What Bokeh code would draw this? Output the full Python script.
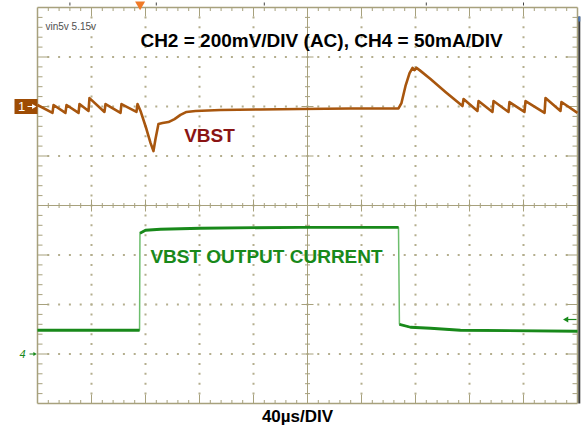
import numpy as np
from bokeh.plotting import figure
from bokeh.models import Range1d, Label
from bokeh.embed import file_html
from bokeh.resources import INLINE

# ---------------- data ----------------
# CH2: VBST (AC coupled), time in microseconds, deviation in mV
time_ch2_us = [0, 11.1, 11.9, 20.7, 21.5, 30.4, 31.1, 37.8, 38.5, 49.6,
               50.4, 61.5, 62.2, 73.3, 74.1, 76.3, 80.7, 83.7, 85.9, 87.4,
               89.6, 92.6, 97.0, 101.5, 105.9, 110.4, 117.0, 135.6, 165.2, 194.8,
               231.9, 267.4, 269.6, 272.6, 275.6, 277.8, 279.3, 280.7, 283.0, 291.1,
               302.2, 314.8, 315.6, 325.9, 326.7, 337.0, 337.8, 348.9, 349.6, 360.7,
               361.5, 375.6, 376.3, 387.4, 388.1, 400]
ch2_mV = [6, -26, 6, -26, 6, -26, 10, -18, 34, -22,
          10, -26, 10, -22, 10, -18, -91, -147, -180, -131,
          -71, -67, -63, -51, -34, -22, -18, -14, -12, -10,
          -8, -8, 14, 83, 135, 156, 147, 156, 147, 111,
          59, 2, 30, -18, 22, -22, 22, -22, 18, -22,
          22, -26, 34, -18, 18, -26]

# CH4: VBST output current, time in microseconds, current in mA
time_ch4_us = [0, 75.6, 75.9, 80.0, 91.1, 120.7, 194.8, 267.4, 268.1, 276.3, 291.1, 313.3, 400]
ch4_mA = [24, 24, 122, 125, 126, 127, 128, 128, 30, 27, 26, 24, 23]
ch4_edges = [1, 7]   # indices where the step edges start

CH2_MV_PER_DIV = 200
CH4_MA_PER_DIV = 50
CH2_OFFSET_DIV = 2
CH4_OFFSET_DIV = -3
US_PER_DIV = 40
N_XDIV = 10
N_YDIV = 8
TRIGGER_US = 76

title_text = "CH2 = 200mV/DIV (AC), CH4 = 50mA/DIV"
ch2_label = "VBST"
ch4_label = "VBST OUTPUT CURRENT"
time_label = "40\u00b5s/DIV"
info_text = "vin5v 5.15v"

# ---------------- styling ----------------
W, H = 581, 430
PX_PER_US = 54 / 40.0
PX_PER_DIV = 49.5
x_start = -37 / PX_PER_US
y_end = 205 / PX_PER_DIV

BORDER = "#A7A17D"
DOT = "#B4AE8E"
CH2_COL = "#A8560E"
CH2_BOX = "#9E4C04"
CH4_COL = "#18891A"
CH4_EDGE = "#6DBE6D"

p = figure(width=W, height=H,
           x_range=Range1d(x_start, x_start + W / PX_PER_US),
           y_range=Range1d(y_end - H / PX_PER_DIV, y_end),
           output_backend="svg", toolbar_location=None, min_border=0,
           x_axis_location=None, y_axis_location=None)
p.grid.visible = False
p.outline_line_color = None
p.background_fill_color = "white"
p.border_fill_color = "white"

def dx(px):
    return px / PX_PER_US

def dy(px):
    return px / PX_PER_DIV

x_right = N_XDIV * US_PER_DIV
y_top = N_YDIV / 2
y_bot = -N_YDIV / 2

# dotted graticule
dots_x, dots_y = [], []
for i in range(1, N_XDIV):
    if i == N_XDIV // 2:
        continue
    for j in range(-20 + 1, 20):
        dots_x.append(i * US_PER_DIV)
        dots_y.append(j / 5)
for k in range(-3, 4):
    if k == 0:
        continue
    for m in range(1, 50):
        dots_x.append(m / 5 * US_PER_DIV)
        dots_y.append(k)
p.scatter(dots_x, dots_y, marker="square", size=2, color=DOT, line_color=None)

# center axes
p.segment(x0=[0, 5 * US_PER_DIV], y0=[0, y_bot], x1=[x_right, 5 * US_PER_DIV], y1=[0, y_top],
          line_color=BORDER, line_width=1)
tx, ty0, ty1 = [], [], []
for m in range(1, 50):
    L = 6 if m % 5 == 0 else 2.5
    tx.append(m / 5 * US_PER_DIV); ty0.append(-dy(L)); ty1.append(dy(L))
p.segment(x0=tx, y0=ty0, x1=tx, y1=ty1, line_color=BORDER, line_width=1)
hy, hx0, hx1 = [], [], []
for j in range(-19, 20):
    L = 6 if j % 5 == 0 else 2.5
    hy.append(j / 5); hx0.append(5 * US_PER_DIV - dx(L)); hx1.append(5 * US_PER_DIV + dx(L))
p.segment(x0=hx0, y0=hy, x1=hx1, y1=hy, line_color=BORDER, line_width=1)

# border
p.segment(x0=[0, 0, 0, x_right], y0=[y_bot, y_top, y_bot, y_bot],
          x1=[x_right, x_right, 0, x_right], y1=[y_bot, y_top, y_top, y_top],
          line_color=BORDER, line_width=1.5)
# border ticks
bx0, by0, bx1, by1 = [], [], [], []
for m in range(1, 50):
    L = 9 if m % 5 == 0 else 3.5
    x = m / 5 * US_PER_DIV
    bx0 += [x, x]; bx1 += [x, x]
    by0 += [y_bot, y_top]; by1 += [y_bot + dy(L), y_top - dy(L)]
for j in range(-19, 20):
    L = 11 if j % 5 == 0 else 5
    y = j / 5
    bx0 += [0, x_right]; bx1 += [dx(L), x_right - dx(L)]
    by0 += [y, y]; by1 += [y, y]
p.segment(x0=bx0, y0=by0, x1=bx1, y1=by1, line_color=BORDER, line_width=1)

# small marks above the top border
mx = [m / 5 * US_PER_DIV for m in (3, 11, 21, 36, 45)]
p.segment(x0=mx, y0=[y_top + dy(2)] * len(mx), x1=mx, y1=[y_top + dy(5)] * len(mx),
          line_color="#444444", line_width=1)

# trigger marker (top)
p.scatter([TRIGGER_US], [y_top + dy(3)], marker="triangle", size=10, angle=np.pi,
          color="#F07A28", line_color=None)

# dark right edge
xr = (578.8 - 37) / PX_PER_US
p.segment(x0=[xr], y0=[y_top - dy(9)], x1=[xr], y1=[y_bot], line_color="#3a3a3a", line_width=2)
p.segment(x0=[xr], y0=[y_top - dy(9)], x1=[xr], y1=[y_top - dy(14)], line_color="#4a78b8", line_width=2)

# traces
ch2_div = [CH2_OFFSET_DIV + v / CH2_MV_PER_DIV for v in ch2_mV]
ch4_div = [CH4_OFFSET_DIV + v / CH4_MA_PER_DIV for v in ch4_mA]
p.line(time_ch2_us, ch2_div, line_color=CH2_COL, line_width=2.6, line_join="round")
# CH4: thin light edges, thick flat parts
p.line(time_ch4_us, ch4_div, line_color=CH4_EDGE, line_width=1.5)
cuts = [0] + [e + 1 for e in ch4_edges] + [len(time_ch4_us)]
xs = [time_ch4_us[a:b] for a, b in zip(cuts[:-1], cuts[1:])]
ys = [ch4_div[a:b] for a, b in zip(cuts[:-1], cuts[1:])]
p.multi_line(xs, ys, line_color=CH4_COL, line_width=2.8, line_join="round")

# channel 2 marker box on left
p.quad(left=[dx(14 - 37)], right=[0], bottom=[CH2_OFFSET_DIV - dy(7.5)], top=[CH2_OFFSET_DIV + dy(7.5)],
       fill_color=CH2_BOX, line_color=None)
p.add_layout(Label(x=dx(21 - 37), y=CH2_OFFSET_DIV, text="1", text_color="white",
                   text_font="Liberation Sans", text_font_size="13px",
                   text_align="center", text_baseline="middle"))
p.segment(x0=[dx(27 - 37)], y0=[CH2_OFFSET_DIV], x1=[dx(33 - 37)], y1=[CH2_OFFSET_DIV],
          line_color="white", line_width=1.2)
p.scatter([dx(33 - 37)], [CH2_OFFSET_DIV], marker="triangle", size=5, angle=-np.pi / 2,
          color="white", line_color=None)

# channel 4 marker
p.add_layout(Label(x=dx(22 - 37), y=CH4_OFFSET_DIV, text="4", text_color=CH4_COL,
                   text_font="Liberation Sans", text_font_size="11px", text_font_style="italic",
                   text_align="center", text_baseline="middle"))
p.segment(x0=[dx(29 - 37)], y0=[CH4_OFFSET_DIV], x1=[dx(34 - 37)], y1=[CH4_OFFSET_DIV],
          line_color=CH4_COL, line_width=1)
p.scatter([dx(34 - 37)], [CH4_OFFSET_DIV], marker="triangle", size=4, angle=-np.pi / 2,
          color=CH4_COL, line_color=None)

# right-side arrow
ya = (205 - 319) / PX_PER_DIV
p.segment(x0=[dx(567 - 37)], y0=[ya], x1=[dx(576 - 37)], y1=[ya], line_color=CH4_COL, line_width=1.2)
p.scatter([dx(566 - 37)], [ya], marker="triangle", size=6, angle=np.pi / 2,
          color=CH4_COL, line_color=None)

# texts
def lab(px, py, text, size, color, style="bold", align="center"):
    p.add_layout(Label(x=dx(px - 37), y=(205 - py) / PX_PER_DIV, text=text,
                       text_font="Liberation Sans", text_font_size=size,
                       text_font_style=style, text_color=color,
                       text_align=align, text_baseline="middle"))

lab(321, 40, title_text, "19px", "black")
lab(209, 135, ch2_label, "19px", "#8A1414")
lab(266, 256, ch4_label, "19px", CH4_COL)
lab(297, 416, time_label, "17px", "black")
lab(45, 25.5, info_text, "10px", "#505050", style="normal", align="left")

open("out.html", "w").write(file_html(p, INLINE))
